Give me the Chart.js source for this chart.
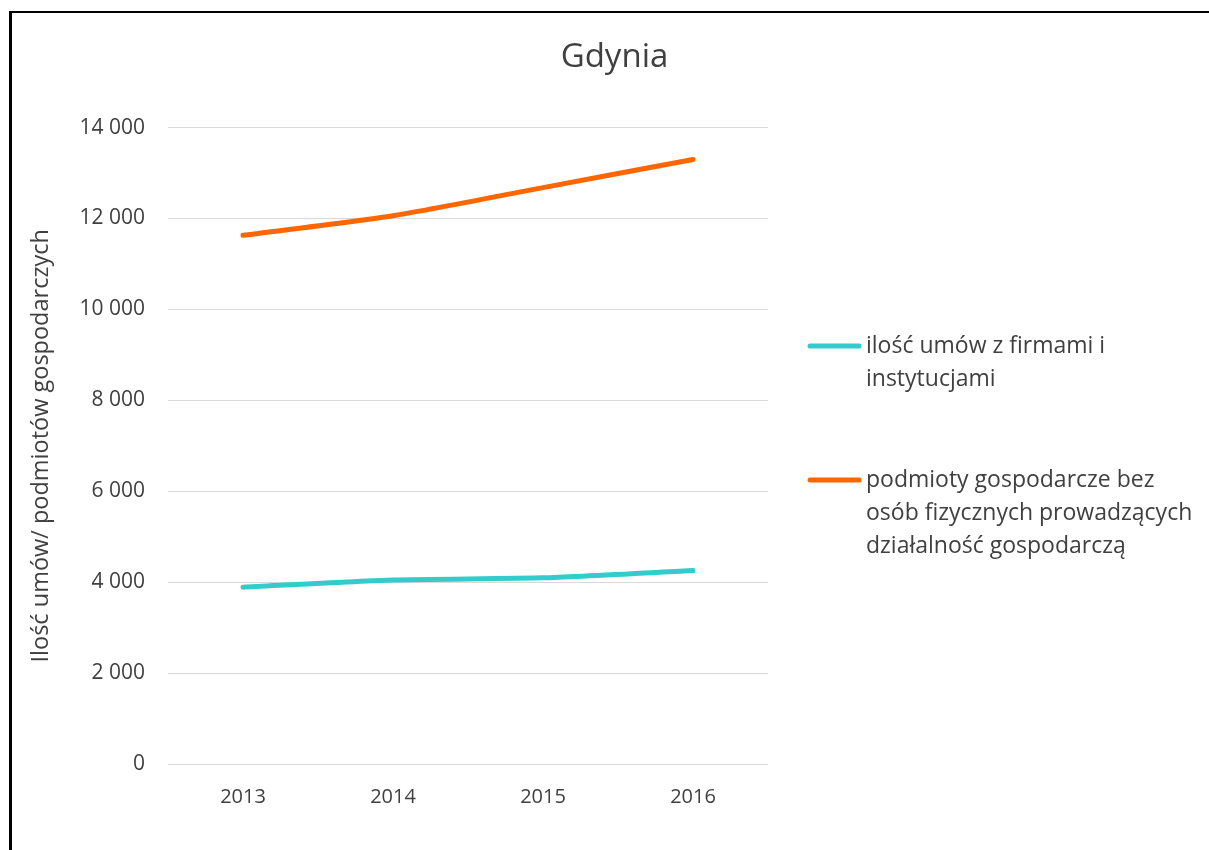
<!DOCTYPE html>
<html>
<head>
<meta charset="utf-8">
<script src="https://cdn.jsdelivr.net/npm/chart.js@4.4.1/dist/chart.umd.min.js"></script>
<style>
  html, body { margin: 0; padding: 0; background: #fff; overflow: hidden; }
  #wrap { position: relative; width: 1209px; height: 850px; }
  #frame { position: absolute; left: 9px; top: 11px; width: 1300px; height: 900px;
           border-left: 3px solid #000; border-top: 2px solid #000; pointer-events: none; }
  canvas { position: absolute; left: 0; top: 0; }
</style>
</head>
<body>
<div id="wrap">
  <canvas id="chart" width="1209" height="850"></canvas>
  <div id="frame"></div>
</div>
<script>
// data
const years = ['2013', '2014', '2015', '2016'];
const umowy = [3890, 4050, 4095, 4255];
const podmioty = [11630, 12060, 12680, 13300];
const seriesLabels = [
  ['ilość umów z firmami i', 'instytucjami'],
  ['podmioty gospodarcze bez', 'osób fizycznych prowadzących', 'działalność gospodarczą']
];
const seriesColors = ['#33CCCC', '#FF6600'];
const yMin = 0, yMax = 14000, yStep = 2000;

const FONT = "'Open Sans', 'Noto Sans', sans-serif";
const textColor = '#404040';

// legend drawn on the right, text wrapped like the original
const sideLegend = {
  id: 'sideLegend',
  afterDraw(chart) {
    const ctx = chart.ctx;
    const itemY = [346, 480];
    const lineH = 33;
    ctx.save();
    chart.data.datasets.forEach((ds, i) => {
      const y = itemY[i];
      ctx.strokeStyle = ds.borderColor;
      ctx.lineWidth = 5;
      ctx.lineCap = 'round';
      ctx.beginPath();
      ctx.moveTo(810, y);
      ctx.lineTo(859, y);
      ctx.stroke();
      ctx.fillStyle = textColor;
      ctx.font = '23px ' + FONT;
      ctx.textBaseline = 'middle';
      ctx.textAlign = 'left';
      ds.label.forEach((line, j) => {
        ctx.fillText(line, 866, y + j * lineH);
      });
    });
    ctx.restore();
  }
};

new Chart(document.getElementById('chart'), {
  type: 'line',
  data: {
    labels: years,
    datasets: [
      {
        label: seriesLabels[0],
        data: umowy,
        borderColor: seriesColors[0],
        backgroundColor: seriesColors[0],
      },
      {
        label: seriesLabels[1],
        data: podmioty,
        borderColor: seriesColors[1],
        backgroundColor: seriesColors[1],
      },
    ].map((d) => ({
      ...d,
      borderWidth: 5,
      pointRadius: 0,
      tension: 0.2,
      borderCapStyle: 'round',
      borderJoinStyle: 'round',
      fill: false,
      yAxisID: 'y',
    })),
  },
  options: {
    responsive: false,
    animation: false,
    devicePixelRatio: 1,
    layout: {
      padding: { left: 20, right: 0, top: 16, bottom: 0 },
    },
    scales: {
      x: {
        offset: true,
        grid: { display: false, drawTicks: false },
        border: { display: false },
        ticks: {
          color: '#404040',
          font: { family: FONT, size: 20 },
          padding: 21,
        },
        afterFit: (scale) => { scale.height = 86; },
      },
      y: {
        min: yMin,
        max: yMax,
        grid: { color: '#d9d9d9', lineWidth: 1, drawTicks: false },
        border: { display: false },
        ticks: {
          stepSize: yStep,
          color: '#404040',
          font: { family: FONT, size: 21 },
          padding: 23,
          callback: (v) => String(v).replace(/\B(?=(\d{3})+(?!\d))/g, ' '),
        },
        title: {
          display: true,
          text: 'Ilość umów/ podmiotów gospodarczych',
          color: textColor,
          font: { family: FONT, size: 23.5 },
          padding: { top: 7, bottom: 0 },
        },
        afterFit: (scale) => { scale.width = 148; },
      },
      // empty right-hand axis only reserves the room for the legend
      side: {
        type: 'linear',
        position: 'right',
        grid: { display: false },
        border: { display: false },
        ticks: { display: false },
        afterFit: (scale) => { scale.width = 441; },
      },
    },
    plugins: {
      legend: { display: false },
      tooltip: { enabled: false },
      title: {
        display: true,
        text: 'Gdynia',
        color: textColor,
        font: { family: FONT, size: 33, weight: 'normal' },
        padding: { top: 22, bottom: 50 },
      },
    },
  },
  plugins: [sideLegend],
});
</script>
</body>
</html>
